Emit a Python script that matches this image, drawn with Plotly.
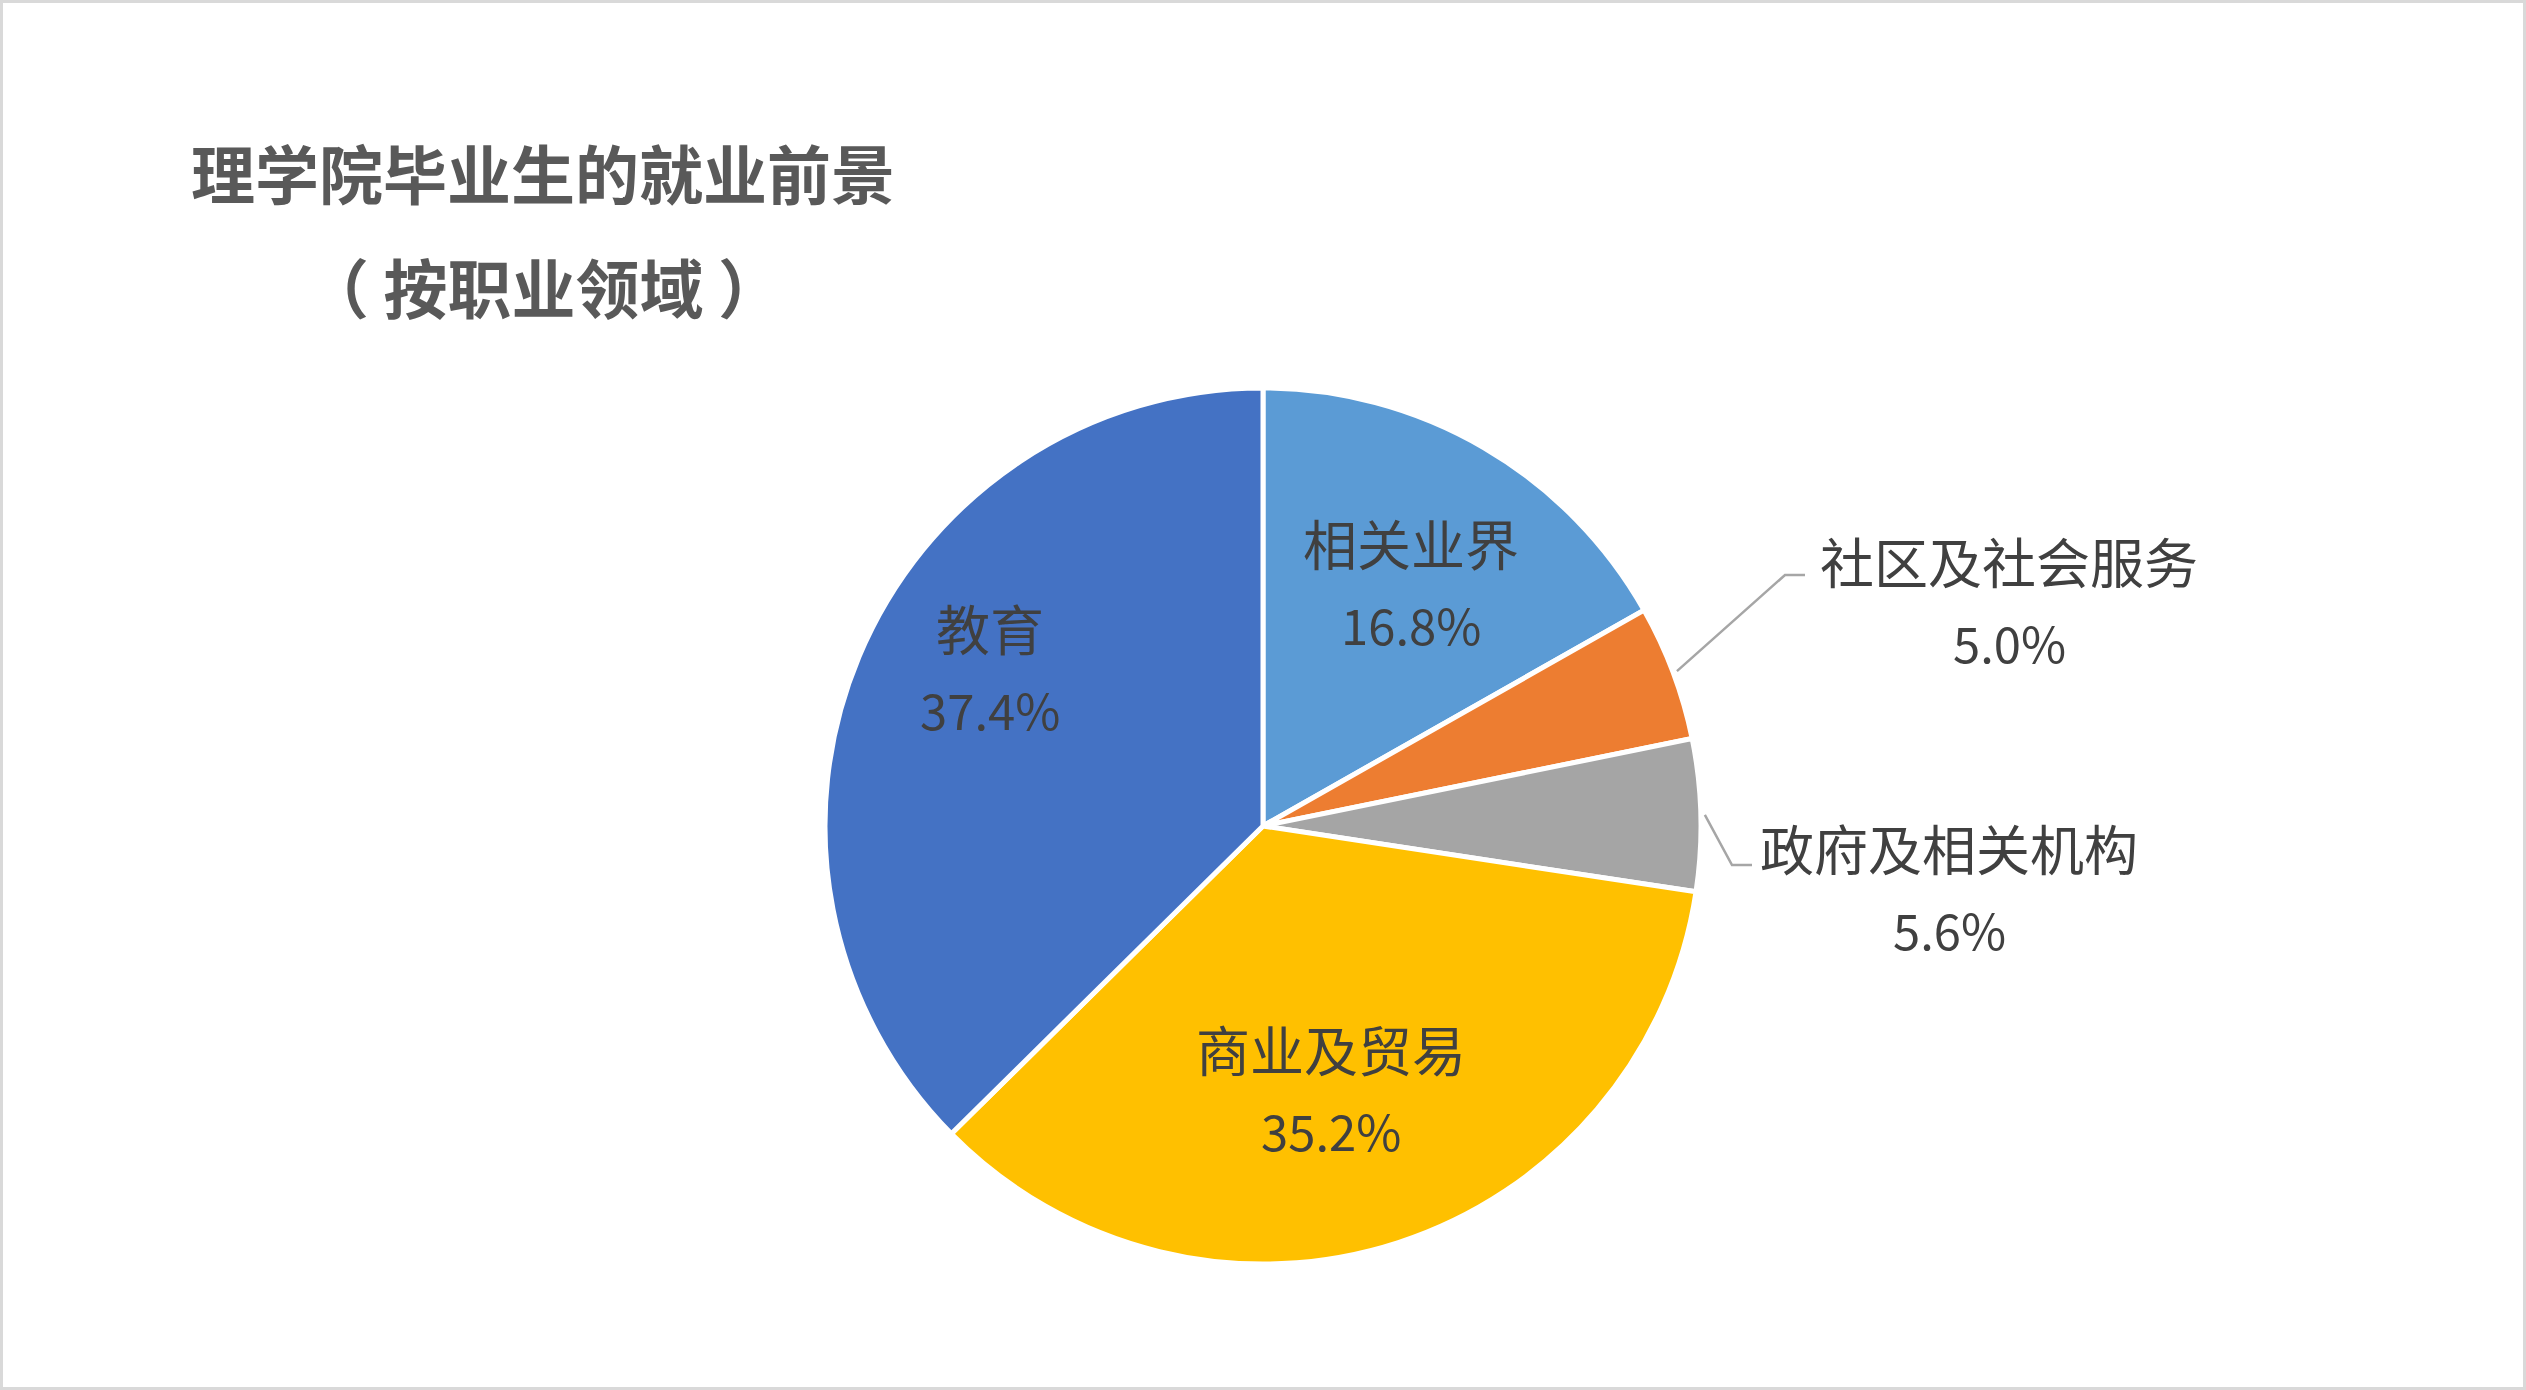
import math
import plotly.graph_objects as go

# ---- data ----
categories = ["相关业界", "社区及社会服务", "政府及相关机构", "商业及贸易", "教育"]
shares = [16.8, 5.0, 5.6, 35.2, 37.4]
colors = ["#5B9BD5", "#ED7D31", "#A5A5A5", "#FFC000", "#4472C4"]
title_lines = ["理学院毕业生的就业前景", "（ 按职业领域 ）"]

# ---- layout constants (pixels) ----
W, H = 2526, 1390
CX, CY, R = 1263, 826, 438
FONT = "Noto Sans CJK SC, Microsoft YaHei, sans-serif"
LABEL_SIZE = 54
PCT_SIZE = 49
LINE_GAP = 81

def px(x):
    return x / W

def py(y):
    return 1 - y / H

fig = go.Figure(go.Pie(
    labels=categories,
    values=shares,
    sort=False,
    direction="clockwise",
    rotation=0,
    marker=dict(colors=colors, line=dict(color="white", width=5)),
    textinfo="none",
    hoverinfo="label+percent",
    showlegend=False,
    domain=dict(x=[px(CX - R), px(CX + R)], y=[py(CY + R), py(CY - R)]),
))

annotations = []
shapes = []

# title
annotations.append(dict(x=px(543), y=py(171), xref="paper", yref="paper",
                        text="<b>" + title_lines[0] + "</b>", showarrow=False,
                        font=dict(family=FONT, size=64, color="#595959"),
                        xanchor="center", yanchor="middle"))
annotations.append(dict(x=px(543), y=py(285), xref="paper", yref="paper",
                        text="<b>" + title_lines[1] + "</b>", showarrow=False,
                        font=dict(family=FONT, size=64, color="#595959"),
                        xanchor="center", yanchor="middle"))

# label placement: inside (radius fraction, angle nudge deg) or outside
label_style = {
    0: ("in", 0.65, 1.0),
    3: ("in", 0.62, 3.5),
    4: ("in", 0.72, 7.4),
    1: ("out", (2009, 601), (1785, 575)),
    2: ("out", (1949, 888), (1732, 865)),
}

total = sum(shares)
cum = 0.0
for i, (cat, v) in enumerate(zip(categories, shares)):
    mid = (cum + v / 2) / total * 2 * math.pi
    cum += v
    pct = f"{v / total * 100:.1f}%"
    st = label_style[i]
    if st[0] == "in":
        ang = mid + math.radians(st[2])
        lx = CX + st[1] * R * math.sin(ang)
        ly = CY - st[1] * R * math.cos(ang)
    else:
        lx, ly = st[1]
        ex = CX + (R + 4) * math.sin(mid)
        ey = CY - (R + 4) * math.cos(mid)
        bx, by = st[2]
        shapes.append(dict(type="path", xref="paper", yref="paper",
                           path=f"M {px(ex)},{py(ey)} L {px(bx)},{py(by)} L {px(bx + 20)},{py(by)}",
                           line=dict(color="#A6A6A6", width=2.5)))
    annotations.append(dict(x=px(lx), y=py(ly - LINE_GAP / 2), xref="paper", yref="paper",
                            text=cat, showarrow=False,
                            font=dict(family=FONT, size=LABEL_SIZE, color="#404040"),
                            xanchor="center", yanchor="middle"))
    annotations.append(dict(x=px(lx), y=py(ly + LINE_GAP / 2), xref="paper", yref="paper",
                            text=pct, showarrow=False,
                            font=dict(family=FONT, size=PCT_SIZE, color="#404040"),
                            xanchor="center", yanchor="middle"))

# chart area border
shapes.append(dict(type="rect", xref="paper", yref="paper", x0=0.0006, y0=0.001, x1=0.9994, y1=0.999,
                   line=dict(color="#D9D9D9", width=3), fillcolor="rgba(0,0,0,0)"))

fig.update_layout(
    width=W, height=H,
    margin=dict(l=0, r=0, t=0, b=0),
    paper_bgcolor="white", plot_bgcolor="white",
    annotations=annotations, shapes=shapes,
    font=dict(family=FONT),
)

fig.write_html(
    "out.html",
    config={"displayModeBar": False},
    post_script="document.body.style.margin='0px';document.documentElement.style.overflow='hidden';document.body.style.overflow='hidden';",
)
